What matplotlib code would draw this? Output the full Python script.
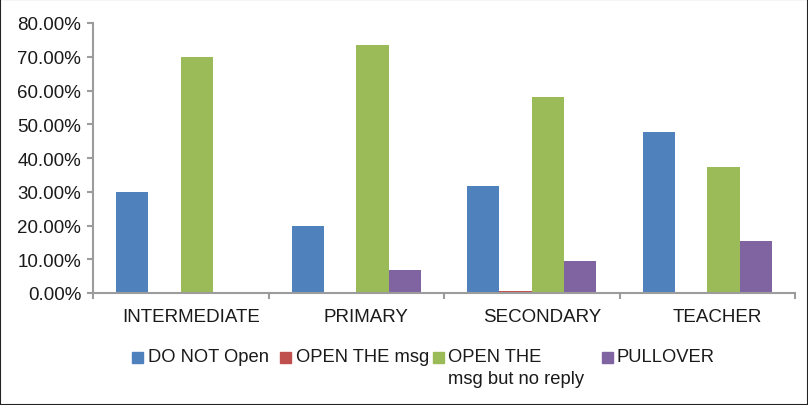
import numpy as np
import matplotlib
matplotlib.use("Agg")
import matplotlib.pyplot as plt
import matplotlib.transforms as mtransforms
from matplotlib.patches import Rectangle

plt.rcParams["font.family"] = ["Liberation Sans", "DejaVu Sans"]

# ── Data (percent) ────────────────────────────────────────────────────────────
groups = ["INTERMEDIATE", "PRIMARY", "SECONDARY", "TEACHER"]
do_not_open = [30.0, 20.0, 31.7, 47.6]
open_msg = [0.0, 0.0, 0.6, 0.0]
open_no_reply = [70.0, 73.5, 58.1, 37.4]
pullover = [0.0, 6.8, 9.5, 15.5]

series = [do_not_open, open_msg, open_no_reply, pullover]
labels = ["DO NOT Open", "OPEN THE msg", "OPEN THE\nmsg but no reply", "PULLOVER"]
colors = ["#4F81BD", "#C0504D", "#9BBB59", "#8064A2"]

W, H = 808, 406
fig = plt.figure(figsize=(W / 100, H / 100), dpi=100)
ax = fig.add_axes([93 / W, 1 - 294 / H, (795 - 93) / W, (294 - 24) / H])

x = np.arange(len(groups))
bw = 0.184
for i, (vals, c) in enumerate(zip(series, colors)):
    ax.bar(x + (i - 1.5) * bw, vals, width=bw, color=c, zorder=2)

ax.set_xlim(-0.5, len(groups) - 0.5)
ax.set_ylim(0, 80)
ax.set_yticks(np.arange(0, 81, 10))
ax.set_yticklabels([f"{v:.2f}%" for v in np.arange(0, 81, 10)])

# group boundaries carry the ticks, labels sit between them
ax.set_xticks(np.arange(-0.5, len(groups), 1.0))
ax.set_xticklabels([])
ax.set_xticks(x, minor=True)
ax.set_xticklabels(groups, minor=True)
ax.tick_params(axis="x", which="minor", length=0, pad=11)
shift = mtransforms.ScaledTranslation(10 / 100, 0, fig.dpi_scale_trans)
for lab in ax.get_xticklabels(minor=True):
    lab.set_transform(lab.get_transform() + shift)

grey = "#9C9C9C"
for s in ["top", "right"]:
    ax.spines[s].set_visible(False)
for s in ["left", "bottom"]:
    ax.spines[s].set_color(grey)
    ax.spines[s].set_linewidth(1.5)
ax.tick_params(axis="both", which="major", color=grey, width=1.5, length=4.5,
               direction="out")
ax.tick_params(axis="y", labelsize=13.5, labelcolor="#1a1a1a", pad=4)
ax.tick_params(axis="x", which="minor", labelsize=13.5, labelcolor="#1a1a1a")

# ── Legend, drawn by hand so the markers sit on the first text line ──────────
sq_x = [132, 280, 433, 602]
txt_x = [148, 296, 448, 617]
y_line = 358
for sx, tx, lab, c in zip(sq_x, txt_x, labels, colors):
    fig.patches.append(Rectangle((sx / W, 1 - (y_line + 5.5) / H), 11 / W, 11 / H,
                                 transform=fig.transFigure, color=c))
    fig.text(tx / W, 1 - (y_line - 9) / H, lab, fontsize=13.2, color="#1a1a1a",
             ha="left", va="top", linespacing=1.4)

# thin frame around the whole picture
fig.patches.append(Rectangle((0, 0), 1, 1, transform=fig.transFigure,
                             fill=False, edgecolor="#222222", linewidth=1.5))

fig.savefig("out.png", dpi=100)
